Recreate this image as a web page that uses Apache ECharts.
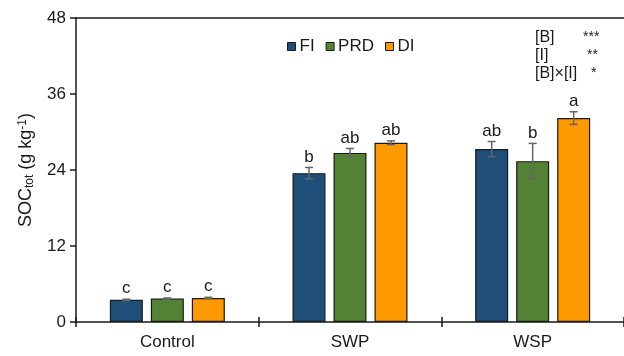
<!DOCTYPE html>
<html>
<head>
<meta charset="utf-8">
<script src="https://cdn.jsdelivr.net/npm/echarts@6/dist/echarts.min.js"></script>
<style>
html,body{margin:0;padding:0;background:#fff;}
#chart{width:624px;height:356px;}
</style>
</head>
<body>
<div id="chart"></div>
<script>
var categories=['Control','SWP','WSP'];
var treatments=['FI','PRD','DI'];
var fiValues=[3.5,23.5,27.3];
var prdValues=[3.7,26.7,25.4];
var diValues=[3.8,28.3,32.2];
var fiErr=[0.1,0.9,1.2];
var prdErr=[0.1,0.7,2.8];
var diErr=[0.1,0.3,1.0];
var fiLetters=['c','b','ab'];
var prdLetters=['c','ab','b'];
var diLetters=['c','ab','a'];
var yTicks=[0,12,24,36,48];

var colors=['#1F4E79','#548235','#FF9900'];
var values=[fiValues,prdValues,diValues];
var errs=[fiErr,prdErr,diErr];
var letters=[fiLetters,prdLetters,diLetters];
var barW=33, gapPx=8;
var font='"Liberation Sans", Arial, sans-serif';

var series=[];
treatments.forEach(function(name,i){
    series.push({
        name:name,
        type:'bar',
        barWidth:barW,
        barGap:(gapPx/barW*100)+'%',
        itemStyle:{color:colors[i],borderColor:'#1a1a1a',borderWidth:1.2},
        data:values[i]
    });
});
// error bars + letters
treatments.forEach(function(name,i){
    series.push({
        type:'custom',
        z:10,
        data:values[i].map(function(v,k){return [k,v,errs[i][k]];}),
        renderItem:function(params,api){
            var k=api.value(0), v=api.value(1), e=api.value(2);
            var off=(i-1)*(barW+gapPx);
            var hi=api.coord([k,v+e]), lo=api.coord([k,v-e]);
            var x=hi[0]+off;
            var st={stroke:'#666',lineWidth:1.5};
            return {type:'group',children:[
                {type:'line',shape:{x1:x,y1:hi[1],x2:x,y2:lo[1]},style:st},
                {type:'line',shape:{x1:x-4,y1:hi[1],x2:x+4,y2:hi[1]},style:st},
                {type:'line',shape:{x1:x-4,y1:lo[1],x2:x+4,y2:lo[1]},style:st},
                {type:'text',style:{text:letters[i][k],x:x,y:hi[1]-2,align:'center',verticalAlign:'bottom',
                    font:'17px '+font,fill:'#1a1a1a'}}
            ]};
        }
    });
});

var chart=echarts.init(document.getElementById('chart'));
chart.setOption({
    animation:false,
    textStyle:{fontFamily:font},
    grid:{left:76,right:-2,top:18,bottom:34,containLabel:false},
    legend:{
        data:treatments,
        left:282,top:33,
        icon:'rect',itemWidth:8,itemHeight:8,itemGap:11,
        itemStyle:{borderColor:'#1a1a1a',borderWidth:1},
        textStyle:{fontSize:17,color:'#1a1a1a',padding:[0,0,0,-1]}
    },
    xAxis:[{
        type:'category',data:categories,
        axisLine:{lineStyle:{color:'#1a1a1a',width:1.5}},
        axisTick:{show:true,length:5,lineStyle:{color:'#1a1a1a',width:1.5}},
        axisLabel:{fontSize:17,color:'#1a1a1a',margin:12}
    },{
        type:'category',data:categories,position:'bottom',
        axisLine:{show:false},
        axisTick:{show:true,inside:true,length:5,lineStyle:{color:'#1a1a1a',width:1.5}},
        axisLabel:{show:false}
    },{
        type:'category',data:categories,position:'top',
        axisLine:{lineStyle:{color:'#1a1a1a',width:1.5}},
        axisTick:{show:false},axisLabel:{show:false}
    }],
    yAxis:{
        type:'value',min:yTicks[0],max:yTicks[yTicks.length-1],interval:12,
        name:'SOC{sub|tot} (g kg{sup|-1})',
        nameLocation:'middle',nameGap:40,
        nameTextStyle:{fontSize:18,color:'#1a1a1a',
            rich:{sub:{fontSize:12,verticalAlign:'bottom',padding:[7,0,0,0]},sup:{fontSize:12,verticalAlign:'top',padding:[0,0,7,0]}}},
        axisLine:{show:true,lineStyle:{color:'#1a1a1a',width:1.5}},
        axisTick:{show:true,length:6,lineStyle:{color:'#1a1a1a',width:1.5}},
        axisLabel:{fontSize:17,color:'#1a1a1a',margin:10},
        splitLine:{show:false}
    },
    graphic:[
        {type:'text',left:535,top:29,style:{text:'[B]\n[I]\n[B]×[I]',font:'16px '+font,lineHeight:18,fill:'#1a1a1a'}},
        {type:'text',left:583,top:30,style:{text:'***',font:'14px '+font,fill:'#1a1a1a'}},
        {type:'text',left:587,top:48,style:{text:'**',font:'14px '+font,fill:'#1a1a1a'}},
        {type:'text',left:591,top:66,style:{text:'*',font:'14px '+font,fill:'#1a1a1a'}}
    ],
    series:series
});
</script>
</body>
</html>
